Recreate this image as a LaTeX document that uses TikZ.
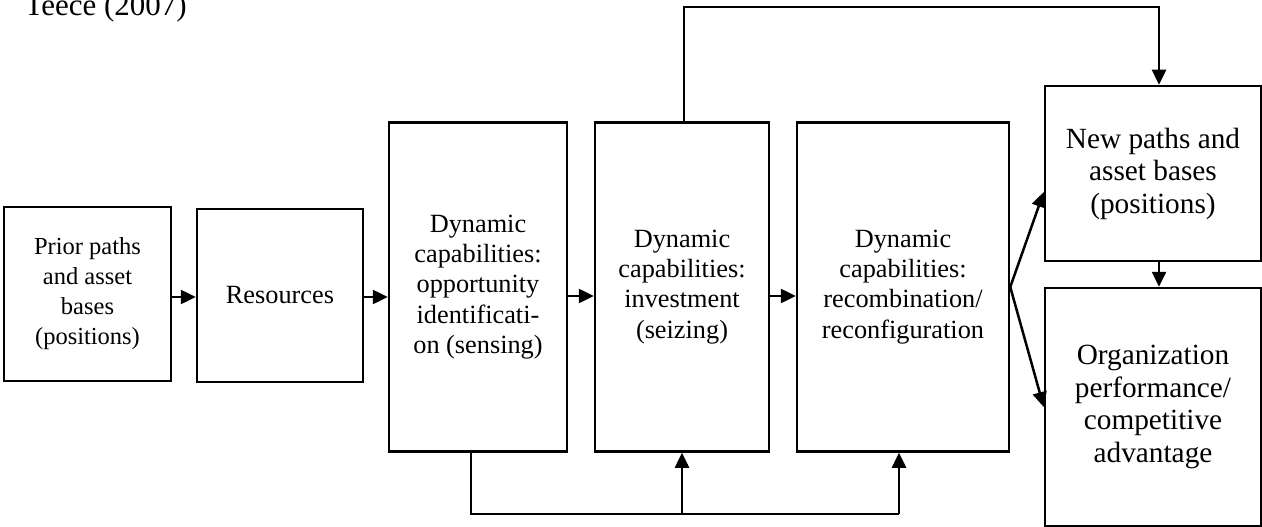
\documentclass[tikz,border=0pt]{standalone}
\usepackage{fontspec}
\setmainfont{Liberation Serif}
\usetikzlibrary{arrows.meta,calc}
\tikzset{
  box/.style={draw, line width=2.5pt, align=center, inner sep=0pt, anchor=center},
  conn/.style={line width=2.5pt},
  arr/.style={line width=2.5pt, -{Triangle[length=15pt,width=14pt]}},
  fA/.style={font=\fontsize{24.5}{30}\selectfont},
  fB/.style={font=\fontsize{26.3}{30.2}\selectfont},
  fC/.style={font=\fontsize{29.3}{32.5}\selectfont},
}
\begin{document}
\begin{tikzpicture}[x=1pt,y=-1pt]
\useasboundingbox (0,0) rectangle (1262,527);
\node[anchor=base west, font=\fontsize{31}{36}\selectfont] (title) at (21,16) {Teece (2007)};
\node[box,fA,minimum width=167pt,minimum height=174pt] (b1) at (87.5,294) {Prior paths\\and asset\\bases\\(positions)};
\node[box,fB,minimum width=166pt,minimum height=173pt] (b2) at (280,295.5) {Resources};
\node[box,fB,minimum width=178pt,minimum height=329pt] (b3) at (478,287) {Dynamic\\capabilities:\\opportunity\\identificati-\\on (sensing)};
\node[box,fB,minimum width=174pt,minimum height=329pt] (b4) at (682,287) {Dynamic\\capabilities:\\investment\\(seizing)};
\node[box,fB,minimum width=212pt,minimum height=329pt] (b5) at (903,287) {Dynamic\\capabilities:\\recombination/\\reconfiguration};
\node[box,fC,minimum width=216pt,minimum height=175pt] (b6) at (1153,173.5) {New paths and\\asset bases\\(positions)};
\node[box,fC,minimum width=216pt,minimum height=238pt] (b7) at (1153,407) {Organization\\performance/\\competitive\\advantage};
% horizontal chain
\draw[arr] (b1.east |- 0,297) -- (b2.west |- 0,297);
\draw[arr] (b2.east |- 0,297) -- (b3.west |- 0,297);
\draw[arr] ([yshift=-9pt]b3.east) -- ([yshift=-9pt]b4.west);
\draw[arr] ([yshift=-9pt]b4.east) -- ([yshift=-9pt]b5.west);
% bottom feedback bus
\coordinate (busL) at (471,514);
\coordinate (busR) at (899,514);
\draw[conn] (b3.south -| busL) -- (busL) -- (busR);
\draw[arr] (b4.south |- busL) -- (b4.south);
\draw[arr] (busR) -- (b5.south -| busR);
% top line
\coordinate (topL) at (684,7);
\coordinate (topR) at (1159,7);
\draw[arr] (b4.north -| topL) -- (topL) -- (topR) -- (b6.north -| topR);
% outputs
\draw[arr] (b5.east) -- ([yshift=-18.5pt]b6.west);
\draw[arr] (b5.east) -- (b7.west);
\draw[arr] ([xshift=6pt]b6.south) -- ([xshift=6pt]b7.north);
\end{tikzpicture}
\end{document}
